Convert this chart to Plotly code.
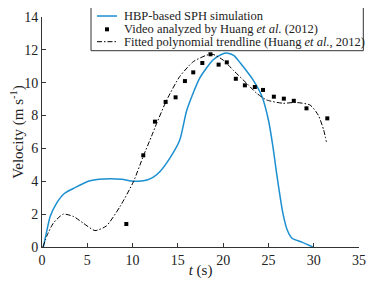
import plotly.graph_objects as go

# SPH simulation curve
sph_t = [0.15, 0.5, 0.9, 1.6, 2.5, 3.6, 5.1, 6.3, 7.5, 8.8, 10.1, 11.0, 11.6, 12.3, 13.0, 14.1, 15.2, 16.0, 17.4, 18.9,
         19.8, 20.5, 21.2, 21.9, 23.3, 24.3, 25.0, 25.5, 25.9, 26.6, 27.1, 27.6, 28.7, 29.9]
sph_v = [0.0, 0.9, 1.85, 2.66, 3.27, 3.6, 4.0, 4.12, 4.16, 4.12, 4.0, 4.02, 4.08, 4.25, 4.58, 5.4, 6.5, 8.35, 10.27, 11.4,
         11.72, 11.8, 11.65, 11.2, 10.17, 9.15, 7.73, 6.1, 4.5, 2.05, 1.0, 0.53, 0.3, 0.0]

# Video analyzed points
vid_t = [9.31, 11.18, 12.47, 13.65, 14.75, 15.78, 16.7, 17.7, 18.6, 19.5, 20.4, 21.4, 22.4, 23.5, 24.4, 25.6, 26.7, 27.8, 29.2, 31.5]
vid_v = [1.40, 5.58, 7.63, 8.83, 9.11, 10.1, 10.63, 11.2, 11.73, 11.1, 11.24, 10.24, 9.84, 9.74, 9.56, 9.15, 9.03, 8.9, 8.44, 7.83]

# Fitted polynomial trendline
fit_t = [0.1, 0.6, 1.25, 2.35, 3.5, 4.56, 5.85, 7.1, 8.6, 10.1, 11.2, 12.1, 12.66, 13.76, 15.2, 16.7, 18.2, 18.9, 20.0,
         21.1, 22.6, 23.7, 24.8, 26.6, 28.0, 29.6, 30.5, 31.1, 31.4]
fit_v = [0.0, 0.75, 1.45, 2.0, 1.85, 1.45, 1.0, 1.28, 2.45, 3.98, 5.55, 6.75, 7.52, 8.94, 10.37, 11.28, 11.68, 11.72, 11.38,
         10.77, 9.96, 9.36, 8.95, 8.75, 8.8, 8.64, 8.03, 7.12, 6.4]

x_ticks = [0, 5, 10, 15, 20, 25, 30, 35]
y_ticks = [0, 2, 4, 6, 8, 10, 12, 14]

series_names = ["HBP-based SPH simulation",
                "Video analyzed by Huang <i>et al.</i> (2012)",
                "Fitted polynomial trendline (Huang <i>et al.</i>, 2012)"]

FONT = "Liberation Serif"
TXT = "#222222"
BLUE = "#1b8fd0"
FIT_DASH = "5px,2px,1.5px,2px"

fig = go.Figure()
fig.add_trace(go.Scatter(x=sph_t, y=sph_v, mode="lines", name=series_names[0],
                         line=dict(color=BLUE, width=1.5, shape="spline", smoothing=0.6)))
fig.add_trace(go.Scatter(x=vid_t, y=vid_v, mode="markers", name=series_names[1],
                         marker=dict(symbol="square", size=4, color="black")))
fig.add_trace(go.Scatter(x=fit_t, y=fit_v, mode="lines", name=series_names[2],
                         line=dict(color="black", width=1, dash=FIT_DASH, shape="spline", smoothing=0.6)))

# Hand-drawn legend box (compact, like the reference)
box = dict(x0=0.1546, x1=1.0136, y0=0.8535, y1=1.0422)
rows = [1.0043, 0.9465, 0.8926]
sx0, sx1, mx, tx = 0.1735, 0.2366, 0.205, 0.2514
shapes = [dict(type="rect", xref="paper", yref="paper", **box,
               line=dict(color="#333333", width=1), fillcolor="white", layer="above")]
shapes.append(dict(type="line", xref="paper", yref="paper", x0=sx0, x1=sx1, y0=rows[0], y1=rows[0],
                   line=dict(color=BLUE, width=1.5), layer="above"))
shapes.append(dict(type="rect", xref="paper", yref="paper", x0=mx - 0.0063, x1=mx + 0.0063,
                   y0=rows[1] - 0.0087, y1=rows[1] + 0.0087, line=dict(width=0), fillcolor="black", layer="above"))
shapes.append(dict(type="line", xref="paper", yref="paper", x0=sx0, x1=sx1, y0=rows[2], y1=rows[2],
                   line=dict(color="black", width=1, dash=FIT_DASH), layer="above"))
annotations = [dict(xref="paper", yref="paper", x=tx, y=r, text=n, showarrow=False, xanchor="left",
                    yanchor="middle", font=dict(family=FONT, size=12.5, color=TXT))
               for r, n in zip(rows, series_names)]

# the page body adds an 8px margin, so the figure is 16px smaller and margins shifted by 8px
fig.update_layout(
    width=361, height=271,
    margin=dict(l=34, r=10, t=9, b=32, autoexpand=False),
    paper_bgcolor="white", plot_bgcolor="white",
    font=dict(family=FONT, size=13, color=TXT),
    showlegend=False,
    shapes=shapes, annotations=annotations,
    xaxis=dict(range=[0, 35], tickvals=x_ticks, ticks="inside", ticklen=4, tickcolor="#333",
               showline=True, linecolor="#333", linewidth=1, showgrid=False, zeroline=False,
               automargin=False, tickfont=dict(family=FONT, size=14, color=TXT),
               title=dict(text="<i>t</i> (s)", font=dict(family=FONT, size=15, color=TXT), standoff=2)),
    yaxis=dict(range=[0, 14], tickvals=y_ticks, ticks="inside", ticklen=4, tickcolor="#333",
               showline=True, linecolor="#333", linewidth=1, showgrid=False, zeroline=False,
               automargin=False, tickfont=dict(family=FONT, size=14, color=TXT),
               title=dict(text="Velocity (m s<sup>-1</sup>)", font=dict(family=FONT, size=15, color=TXT), standoff=4)),
)

fig.write_html("out.html")
